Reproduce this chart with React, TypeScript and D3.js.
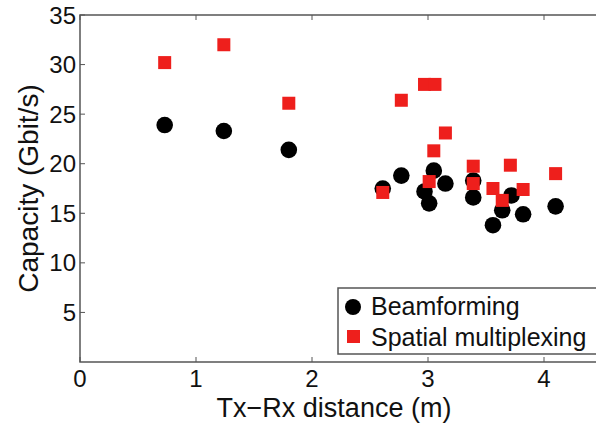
import React, { useRef, useEffect } from "react";
import * as d3 from "d3";

const beamDist = [0.73, 1.24, 1.8, 2.61, 2.77, 2.97, 3.01, 3.05, 3.15, 3.39, 3.39, 3.56, 3.64, 3.72, 3.82, 4.1];
const beamCap = [23.9, 23.3, 21.4, 17.5, 18.8, 17.2, 16.0, 19.3, 18.0, 18.3, 16.6, 13.8, 15.3, 16.8, 14.9, 15.7];

const smDist = [0.73, 1.24, 1.8, 2.61, 2.77, 2.97, 3.01, 3.05, 3.06, 3.15, 3.39, 3.39, 3.56, 3.64, 3.71, 3.82, 4.1];
const smCap = [30.2, 32.0, 26.1, 17.1, 26.4, 28.0, 18.2, 21.3, 28.0, 23.1, 19.75, 18.0, 17.5, 16.3, 19.85, 17.4, 19.0];

const xTicks = [0, 1, 2, 3, 4];
const yTicks = [5, 10, 15, 20, 25, 30, 35];
const legendLabels = ["Beamforming", "Spatial multiplexing"];

const App = () => {
  const svgRef = useRef(null);
  const width = 596;
  const height = 425;

  useEffect(() => {
    document.body.style.margin = "0";
    const svg = d3.select(svgRef.current);
    svg.selectAll("*").remove();

    const margin = { top: 15, left: 80, bottom: 63, right: -6 };
    const font = "'Liberation Sans', Arial, Helvetica, sans-serif";

    const x = d3.scaleLinear().domain([0, 4.5]).range([margin.left, width - margin.right]);
    const y = d3.scaleLinear().domain([0, 35]).range([height - margin.bottom, margin.top]);

    svg.append("rect").attr("width", width).attr("height", height).attr("fill", "#fff");

    const axisColor = "#555";
    // box
    svg
      .append("rect")
      .attr("x", x(0))
      .attr("y", y(35))
      .attr("width", x(4.5) - x(0))
      .attr("height", y(0) - y(35))
      .attr("fill", "none")
      .attr("stroke", axisColor)
      .attr("stroke-width", 1.5);

    // inward ticks
    const tk = 5;
    svg
      .append("g")
      .attr("stroke", axisColor)
      .selectAll("line")
      .data(xTicks.flatMap((d) => [[d, y(0), y(0) - tk], [d, y(35), y(35) + tk]]))
      .join("line")
      .attr("x1", (d) => x(d[0]))
      .attr("x2", (d) => x(d[0]))
      .attr("y1", (d) => d[1])
      .attr("y2", (d) => d[2]);
    svg
      .append("g")
      .attr("stroke", axisColor)
      .selectAll("line")
      .data(yTicks)
      .join("line")
      .attr("x1", x(0))
      .attr("x2", x(0) + tk)
      .attr("y1", (d) => y(d))
      .attr("y2", (d) => y(d));

    // tick labels
    svg
      .append("g")
      .attr("font-family", font)
      .attr("font-size", 24)
      .attr("fill", "#111")
      .selectAll("text")
      .data(xTicks)
      .join("text")
      .attr("x", (d) => x(d))
      .attr("y", y(0) + 25)
      .attr("text-anchor", "middle")
      .text((d) => d);
    svg
      .append("g")
      .attr("font-family", font)
      .attr("font-size", 24)
      .attr("fill", "#111")
      .selectAll("text")
      .data(yTicks)
      .join("text")
      .attr("x", x(0) - 4)
      .attr("y", (d) => y(d) + 8.5)
      .attr("text-anchor", "end")
      .text((d) => d);

    // axis labels
    svg
      .append("text")
      .attr("x", 334)
      .attr("y", 417)
      .attr("text-anchor", "middle")
      .attr("font-family", font)
      .attr("font-size", 27)
      .attr("fill", "#111")
      .text("Tx\u2212Rx distance (m)");
    svg
      .append("text")
      .attr("transform", `translate(38,${(y(0) + y(35)) / 2}) rotate(-90)`)
      .attr("text-anchor", "middle")
      .attr("font-family", font)
      .attr("font-size", 28)
      .attr("fill", "#111")
      .text("Capacity (Gbit/s)");

    const red = "#ee1f1c";
    const sq = 13;

    svg
      .append("g")
      .selectAll("circle")
      .data(beamDist.map((d, i) => [d, beamCap[i]]))
      .join("circle")
      .attr("cx", (d) => x(d[0]))
      .attr("cy", (d) => y(d[1]))
      .attr("r", 8.3)
      .attr("fill", "#000");

    svg
      .append("g")
      .selectAll("rect")
      .data(smDist.map((d, i) => [d, smCap[i]]))
      .join("rect")
      .attr("x", (d) => x(d[0]) - sq / 2)
      .attr("y", (d) => y(d[1]) - sq / 2)
      .attr("width", sq)
      .attr("height", sq)
      .attr("fill", red);

    // legend
    const lg = svg.append("g").attr("transform", "translate(338,288)");
    lg.append("rect")
      .attr("width", 300)
      .attr("height", 66)
      .attr("fill", "#fff")
      .attr("stroke", axisColor)
      .attr("stroke-width", 1.5);
    lg.append("circle").attr("cx", 15).attr("cy", 19).attr("r", 8).attr("fill", "#000");
    lg.append("rect").attr("x", 9).attr("y", 42).attr("width", sq).attr("height", sq).attr("fill", red);
    lg.selectAll("text")
      .data(legendLabels)
      .join("text")
      .attr("x", 33)
      .attr("y", (d, i) => 27 + i * 31)
      .attr("font-family", font)
      .attr("font-size", 25)
      .attr("fill", "#111")
      .text((d) => d);
  }, []);

  return <svg ref={svgRef} width={width} height={height} style={{ display: "block" }}></svg>;
};

export default App;
